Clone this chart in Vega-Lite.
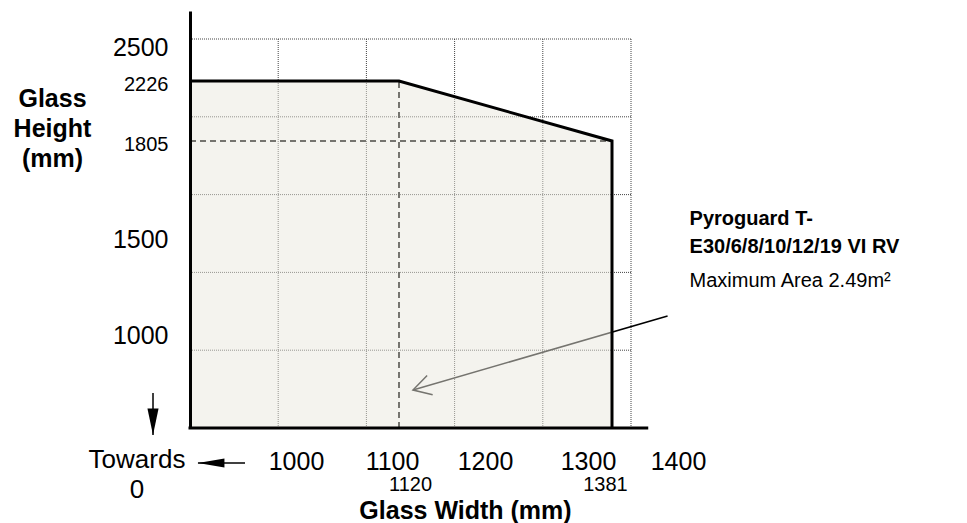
{
  "$schema": "https://vega.github.io/schema/vega-lite/v6.json",
  "width": 777,
  "height": 417,
  "autosize": {"type": "none"},
  "padding": {"left": 190, "top": 11, "right": 0, "bottom": 95},
  "background": "white",
  "config": {"view": {"stroke": null}, "font": "Liberation Sans"},
  "datasets": {
    "lattice": [{"k": 1}, {"k": 2}, {"k": 3}, {"k": 4}, {"k": 5}],
    "outline": [
      {"i": 1, "w": 0, "h": 2226},
      {"i": 2, "w": 1120, "h": 2226},
      {"i": 3, "w": 1381, "h": 1805},
      {"i": 4, "w": 1381, "h": 0}
    ],
    "guides": [
      {"w": 1120, "w2": 1120, "h": 0, "h2": 2226},
      {"w": 0, "w2": 1381, "h": 1805, "h2": 1805}
    ],
    "pointer": [{"w": 1397, "h": 1099, "w2": 1133, "h2": 409}],
    "baseline": [{"w": 0, "w2": 1391, "h": 0}],
    "towards": [
      {"dir": "down", "w": -349, "h": 376, "w2": -349, "h2": -75},
      {"dir": "left", "w": 519, "h": -376, "w2": 75, "h2": -376}
    ],
    "notes": [
      {"kind": "origin", "w": -500, "h": -430, "label": "Towards\n0"},
      {"kind": "name", "w": 1408, "h": 1544, "label": "Pyroguard T-\nE30/6/8/10/12/19 VI RV"},
      {"kind": "area", "w": 1408, "h": 1250, "label": "Maximum Area 2.49m²"}
    ]
  },
  "layer": [
    {
      "data": {"name": "lattice"},
      "layer": [
        {
          "mark": {"type": "rule", "color": "#444444", "strokeWidth": 1, "strokeDash": [1, 1]},
          "encoding": {
            "x": {"field": "k", "type": "quantitative", "scale": {"domain": [0, 5], "range": [0, 441], "nice": false, "zero": false}, "axis": null},
            "y": {"datum": 0, "type": "quantitative", "scale": {"domain": [0, 5], "range": [417, 28], "nice": false, "zero": false}, "axis": null},
            "y2": {"datum": 5}
          }
        },
        {
          "mark": {"type": "rule", "color": "#444444", "strokeWidth": 1, "strokeDash": [1, 1]},
          "encoding": {
            "y": {"field": "k", "type": "quantitative", "scale": {"domain": [0, 5], "range": [417, 28], "nice": false, "zero": false}, "axis": null},
            "x": {"datum": 0, "type": "quantitative", "scale": {"domain": [0, 5], "range": [0, 441], "nice": false, "zero": false}, "axis": null},
            "x2": {"datum": 5}
          }
        }
      ]
    },
    {
      "layer": [
        {
          "data": {"name": "guides"},
          "mark": {"type": "rule", "color": "black", "strokeWidth": 2, "strokeDash": [6, 4]},
          "encoding": {
            "x": {
              "field": "w", "type": "quantitative",
              "scale": {"domain": [0, 1000, 1100, 1120, 1200, 1300, 1381, 1400, 1600], "range": [0, 106, 202, 209, 295, 398, 422, 488, 777], "nice": false, "zero": false},
              "axis": {
                "orient": "bottom",
                "values": [1000, 1100, 1120, 1200, 1300, 1381, 1400],
                "format": "d",
                "labelExpr": "datum.value === 1120 || datum.value === 1381 ? ['', datum.label] : datum.label",
                "title": "Glass Width (mm)",
                "domain": false, "ticks": false, "grid": false,
                "labelOverlap": false, "labelBound": false, "labelFlush": false,
                "labelColor": "black", "labelFont": "Liberation Sans",
                "labelPadding": 21, "labelLineHeight": 25,
                "labelFontSize": {"condition": {"test": "datum.value === 1120 || datum.value === 1381", "value": 20}, "value": 25},
                "labelOffset": {"condition": [{"test": "datum.value === 1120", "value": 11}, {"test": "datum.value === 1381", "value": -7}], "value": 0},
                "titleFont": "Liberation Sans", "titleFontSize": 25, "titleFontWeight": "bold", "titleColor": "black",
                "titleX": 275, "titleY": 90, "titleAlign": "center", "titleBaseline": "alphabetic"
              }
            },
            "x2": {"field": "w2"},
            "y": {
              "field": "h", "type": "quantitative",
              "scale": {"domain": [0, 1000, 1500, 1805, 2226, 2500, 2700], "range": [417, 324, 228, 130, 70, 36, 0], "nice": false, "zero": false},
              "axis": {
                "orient": "left",
                "values": [1000, 1500, 1805, 2226, 2500],
                "format": "d",
                "title": ["Glass", "Height", "(mm)"],
                "zindex": 1,
                "domain": true, "domainColor": "black", "domainWidth": 3,
                "ticks": false, "grid": false,
                "labelOverlap": false, "labelBound": false, "labelFlush": false,
                "labelColor": "black", "labelFont": "Liberation Sans", "labelPadding": 22,
                "labelFontSize": {"condition": {"test": "datum.value === 1805 || datum.value === 2226", "value": 20}, "value": 25},
                "labelOffset": {"condition": {"test": "datum.value === 1805 || datum.value === 2226", "value": 3}, "value": 0},
                "titleFont": "Liberation Sans", "titleFontSize": 25, "titleFontWeight": "bold", "titleColor": "black",
                "titleAngle": 0, "titleX": -138, "titleY": 95, "titleAlign": "center", "titleBaseline": "alphabetic", "titleLineHeight": 30
              }
            },
            "y2": {"field": "h2"}
          }
        },
        {
          "data": {"name": "pointer"},
          "mark": {"type": "rule", "color": "black", "strokeWidth": 1.5},
          "encoding": {
            "x": {"field": "w", "type": "quantitative", "scale": {"domain": [0, 1000, 1100, 1120, 1200, 1300, 1381, 1400, 1600], "range": [0, 106, 202, 209, 295, 398, 422, 488, 777], "nice": false, "zero": false}},
            "x2": {"field": "w2"},
            "y": {"field": "h", "type": "quantitative", "scale": {"domain": [0, 1000, 1500, 1805, 2226, 2500, 2700], "range": [417, 324, 228, 130, 70, 36, 0], "nice": false, "zero": false}},
            "y2": {"field": "h2"}
          }
        },
        {
          "data": {"name": "pointer"},
          "mark": {"type": "point", "shape": "M1,-0.57L0,0L1,0.57", "size": 1239, "angle": 344, "filled": false, "stroke": "black", "strokeWidth": 1.5, "strokeJoin": "miter", "opacity": 1},
          "encoding": {
            "x": {"field": "w2", "type": "quantitative", "scale": {"domain": [0, 1000, 1100, 1120, 1200, 1300, 1381, 1400, 1600], "range": [0, 106, 202, 209, 295, 398, 422, 488, 777], "nice": false, "zero": false}},
            "y": {"field": "h2", "type": "quantitative", "scale": {"domain": [0, 1000, 1500, 1805, 2226, 2500, 2700], "range": [417, 324, 228, 130, 70, 36, 0], "nice": false, "zero": false}}
          }
        },
        {
          "data": {"name": "outline"},
          "transform": [{"filter": "datum.i < 4"}],
          "mark": {"type": "area", "color": "#e9e7dd", "opacity": 0.5},
          "encoding": {
            "x": {"field": "w", "type": "quantitative", "scale": {"domain": [0, 1000, 1100, 1120, 1200, 1300, 1381, 1400, 1600], "range": [0, 106, 202, 209, 295, 398, 422, 488, 777], "nice": false, "zero": false}},
            "y": {"field": "h", "type": "quantitative", "scale": {"domain": [0, 1000, 1500, 1805, 2226, 2500, 2700], "range": [417, 324, 228, 130, 70, 36, 0], "nice": false, "zero": false}},
            "y2": {"datum": 0}
          }
        },
        {
          "data": {"name": "outline"},
          "mark": {"type": "line", "color": "black", "strokeWidth": 3, "strokeJoin": "miter"},
          "encoding": {
            "x": {"field": "w", "type": "quantitative", "scale": {"domain": [0, 1000, 1100, 1120, 1200, 1300, 1381, 1400, 1600], "range": [0, 106, 202, 209, 295, 398, 422, 488, 777], "nice": false, "zero": false}},
            "y": {"field": "h", "type": "quantitative", "scale": {"domain": [0, 1000, 1500, 1805, 2226, 2500, 2700], "range": [417, 324, 228, 130, 70, 36, 0], "nice": false, "zero": false}},
            "order": {"field": "i", "type": "quantitative"}
          }
        },
        {
          "data": {"name": "baseline"},
          "mark": {"type": "rule", "color": "black", "strokeWidth": 3, "strokeCap": "square"},
          "encoding": {
            "x": {"field": "w", "type": "quantitative", "scale": {"domain": [0, 1000, 1100, 1120, 1200, 1300, 1381, 1400, 1600], "range": [0, 106, 202, 209, 295, 398, 422, 488, 777], "nice": false, "zero": false}},
            "x2": {"field": "w2"},
            "y": {"field": "h", "type": "quantitative", "scale": {"domain": [0, 1000, 1500, 1805, 2226, 2500, 2700], "range": [417, 324, 228, 130, 70, 36, 0], "nice": false, "zero": false}}
          }
        },
        {
          "data": {"name": "towards"},
          "mark": {"type": "rule", "color": "black", "strokeWidth": 1.5},
          "encoding": {
            "x": {"field": "w", "type": "quantitative", "scale": {"domain": [0, 1000, 1100, 1120, 1200, 1300, 1381, 1400, 1600], "range": [0, 106, 202, 209, 295, 398, 422, 488, 777], "nice": false, "zero": false}},
            "x2": {"field": "w2"},
            "y": {"field": "h", "type": "quantitative", "scale": {"domain": [0, 1000, 1500, 1805, 2226, 2500, 2700], "range": [417, 324, 228, 130, 70, 36, 0], "nice": false, "zero": false}},
            "y2": {"field": "h2"}
          }
        },
        {
          "data": {"name": "towards"},
          "mark": {"type": "point", "size": 2809, "filled": true, "color": "black", "opacity": 1, "strokeWidth": 0},
          "encoding": {
            "x": {"field": "w2", "type": "quantitative", "scale": {"domain": [0, 1000, 1100, 1120, 1200, 1300, 1381, 1400, 1600], "range": [0, 106, 202, 209, 295, 398, 422, 488, 777], "nice": false, "zero": false}},
            "y": {"field": "h2", "type": "quantitative", "scale": {"domain": [0, 1000, 1500, 1805, 2226, 2500, 2700], "range": [417, 324, 228, 130, 70, 36, 0], "nice": false, "zero": false}},
            "shape": {"field": "dir", "type": "nominal", "scale": {"domain": ["down", "left"], "range": ["M-0.21,-1L0.21,-1L0,0Z", "M0,0L1,-0.17L1,0.17Z"]}, "legend": null}
          }
        },
        {
          "data": {"name": "notes"},
          "transform": [{"filter": "datum.kind === 'origin'"}],
          "mark": {"type": "text", "font": "Liberation Sans", "fontSize": 26, "color": "black", "align": "center", "baseline": "alphabetic", "lineBreak": "\n", "lineHeight": 30},
          "encoding": {
            "x": {"field": "w", "type": "quantitative", "scale": {"domain": [0, 1000, 1100, 1120, 1200, 1300, 1381, 1400, 1600], "range": [0, 106, 202, 209, 295, 398, 422, 488, 777], "nice": false, "zero": false}},
            "y": {"field": "h", "type": "quantitative", "scale": {"domain": [0, 1000, 1500, 1805, 2226, 2500, 2700], "range": [417, 324, 228, 130, 70, 36, 0], "nice": false, "zero": false}},
            "text": {"field": "label"}
          }
        },
        {
          "data": {"name": "notes"},
          "transform": [{"filter": "datum.kind === 'name'"}],
          "mark": {"type": "text", "font": "Liberation Sans", "fontSize": 20, "fontWeight": "bold", "color": "black", "align": "left", "baseline": "alphabetic", "lineBreak": "\n", "lineHeight": 28},
          "encoding": {
            "x": {"field": "w", "type": "quantitative", "scale": {"domain": [0, 1000, 1100, 1120, 1200, 1300, 1381, 1400, 1600], "range": [0, 106, 202, 209, 295, 398, 422, 488, 777], "nice": false, "zero": false}},
            "y": {"field": "h", "type": "quantitative", "scale": {"domain": [0, 1000, 1500, 1805, 2226, 2500, 2700], "range": [417, 324, 228, 130, 70, 36, 0], "nice": false, "zero": false}},
            "text": {"field": "label"}
          }
        },
        {
          "data": {"name": "notes"},
          "transform": [{"filter": "datum.kind === 'area'"}],
          "mark": {"type": "text", "font": "Liberation Sans", "fontSize": 20, "color": "black", "align": "left", "baseline": "alphabetic"},
          "encoding": {
            "x": {"field": "w", "type": "quantitative", "scale": {"domain": [0, 1000, 1100, 1120, 1200, 1300, 1381, 1400, 1600], "range": [0, 106, 202, 209, 295, 398, 422, 488, 777], "nice": false, "zero": false}},
            "y": {"field": "h", "type": "quantitative", "scale": {"domain": [0, 1000, 1500, 1805, 2226, 2500, 2700], "range": [417, 324, 228, 130, 70, 36, 0], "nice": false, "zero": false}},
            "text": {"field": "label"}
          }
        }
      ]
    }
  ],
  "resolve": {"scale": {"x": "independent", "y": "independent"}}
}
